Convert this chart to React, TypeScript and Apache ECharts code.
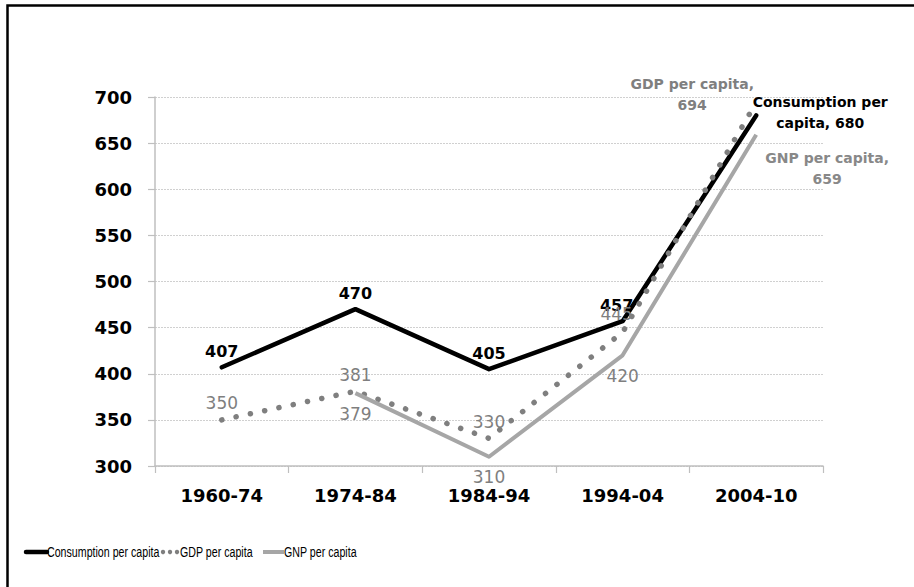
import React, { useEffect, useRef } from "react";
import * as echarts from "echarts";

const categories = ["1960-74", "1974-84", "1984-94", "1994-04", "2004-10"];
const consumption = [407, 470, 405, 457, 680];
const gdp = [350, 381, 330, 445, 694];
const gnp: (number | null)[] = [null, 379, 310, 420, 659];
const yTicks = { min: 300, max: 700, interval: 50 };
const seriesNames = ["Consumption per capita", "GDP per capita", "GNP per capita"];

const AXIS_FONT = "'DejaVu Sans', Verdana, sans-serif";
const LEGEND_FONT = "'Liberation Sans', Arial, sans-serif";

export default function App() {
  const ref = useRef<HTMLDivElement>(null);
  useEffect(() => {
    document.body.style.margin = "0";
    if (!ref.current) return;
    const chart = echarts.init(ref.current, null, { renderer: "svg" });

    const blackLabel = {
      show: true,
      position: "top",
      distance: 8,
      color: "#000",
      fontFamily: AXIS_FONT,
      fontWeight: "bold",
      fontSize: 16,
    };
    const grayLabel = {
      show: true,
      position: "top",
      distance: 8,
      color: "#7f7f7f",
      fontFamily: AXIS_FONT,
      fontWeight: "normal",
      fontSize: 17,
    };

    const consData = consumption.map((v, i) => {
      if (i === consumption.length - 1) {
        return {
          value: v,
          label: {
            ...blackLabel,
            position: "inside",
            offset: [64, -3],
            align: "center",
            verticalAlign: "middle",
            fontSize: 14,
            lineHeight: 21,
            formatter: "Consumption per\ncapita, {c}",
          },
        };
      }
      return { value: v, label: { ...blackLabel, offset: i === 3 ? [-6, 0] : [0, 0] } };
    });

    const gdpData = gdp.map((v, i) => {
      if (i === gdp.length - 1) {
        return {
          value: v,
          label: {
            ...grayLabel,
            position: "inside",
            offset: [-64, -8],
            align: "center",
            verticalAlign: "middle",
            fontSize: 14,
            fontWeight: "bold",
            lineHeight: 21,
            formatter: "GDP per capita,\n{c}",
          },
        };
      }
      return { value: v, label: { ...grayLabel, distance: i === 3 ? 10 : 8, offset: i === 3 ? [-6, 0] : [0, 0] } };
    });

    const gnpData = gnp.map((v, i) => {
      if (v === null) return { value: null };
      if (i === gnp.length - 1) {
        return {
          value: v,
          label: {
            ...grayLabel,
            color: "#888888",
            position: "inside",
            offset: [71, 34],
            align: "center",
            verticalAlign: "middle",
            fontSize: 14,
            fontWeight: "bold",
            lineHeight: 21,
            formatter: "GNP per capita,\n{c}",
          },
        };
      }
      return { value: v, label: { ...grayLabel, position: "bottom", distance: 12 } };
    });

    const legendY = 552;
    const legendText = (text: string, x: number) => ({
      type: "text",
      x,
      y: legendY,
      scaleX: 0.71,
      silent: true,
      style: {
        text,
        fontFamily: LEGEND_FONT,
        fontSize: 15,
        fill: "#000",
        align: "left",
        verticalAlign: "middle",
      },
    });

    chart.setOption({
      animation: false,
      backgroundColor: "#ffffff",
      grid: { left: 155, right: 91, top: 97, bottom: 121, containLabel: false },
      xAxis: {
        type: "category",
        data: categories,
        boundaryGap: true,
        axisLine: { show: true, lineStyle: { color: "#bfbfbf", width: 1.5 } },
        axisTick: { show: true, length: 7, lineStyle: { color: "#bfbfbf", width: 1.2 } },
        axisLabel: {
          margin: 20,
          color: "#000",
          fontFamily: AXIS_FONT,
          fontWeight: "bold",
          fontSize: 18,
        },
        splitLine: { show: false },
      },
      yAxis: {
        type: "value",
        min: yTicks.min,
        max: yTicks.max,
        interval: yTicks.interval,
        axisLine: { show: true, lineStyle: { color: "#bfbfbf", width: 1.5 } },
        axisTick: { show: true, length: 7, lineStyle: { color: "#bfbfbf", width: 1.2 } },
        axisLabel: {
          margin: 23,
          color: "#000",
          fontFamily: AXIS_FONT,
          fontWeight: "bold",
          fontSize: 18,
        },
        splitLine: { show: true, lineStyle: { color: "#d0d0d0", width: 1, type: [2, 1] } },
      },
      series: [
        {
          name: seriesNames[0],
          type: "line",
          data: consData,
          symbol: "circle",
          symbolSize: 0.1,
          itemStyle: { color: "#000" },
          lineStyle: { color: "#000", width: 4.5, join: "round", cap: "round" },
          z: 2,
        },
        {
          name: seriesNames[1],
          type: "line",
          data: gdpData,
          symbol: "circle",
          symbolSize: 0.1,
          itemStyle: { color: "#7f7f7f" },
          lineStyle: { color: "#7f7f7f", width: 5.5, type: [0.1, 14.5], cap: "round" },
          z: 3,
        },
        {
          name: seriesNames[2],
          type: "line",
          data: gnpData,
          connectNulls: false,
          symbol: "circle",
          symbolSize: 0.1,
          itemStyle: { color: "#a6a6a6" },
          lineStyle: { color: "#a6a6a6", width: 4, join: "round" },
          z: 4,
        },
      ],
      graphic: [
        {
          type: "rect",
          silent: true,
          shape: { x: 7.5, y: 5.5, width: 2000, height: 2000 },
          style: { fill: "none", stroke: "#000", lineWidth: 2.5 },
          z: 100,
        },
        {
          type: "line",
          silent: true,
          shape: { x1: 26, y1: legendY, x2: 47, y2: legendY },
          style: { stroke: "#000", lineWidth: 4.5, lineCap: "round" },
        },
        legendText(seriesNames[0], 47),
        { type: "circle", silent: true, shape: { cx: 163, cy: legendY, r: 2.2 }, style: { fill: "#7f7f7f" } },
        { type: "circle", silent: true, shape: { cx: 170, cy: legendY, r: 2.2 }, style: { fill: "#7f7f7f" } },
        { type: "circle", silent: true, shape: { cx: 177, cy: legendY, r: 2.2 }, style: { fill: "#7f7f7f" } },
        legendText(seriesNames[1], 180),
        {
          type: "line",
          silent: true,
          shape: { x1: 263, y1: legendY, x2: 284, y2: legendY },
          style: { stroke: "#a6a6a6", lineWidth: 4 },
        },
        legendText(seriesNames[2], 284),
      ],
    });
    return () => chart.dispose();
  }, []);
  return <div ref={ref} style={{ width: 914, height: 587 }} />;
}
